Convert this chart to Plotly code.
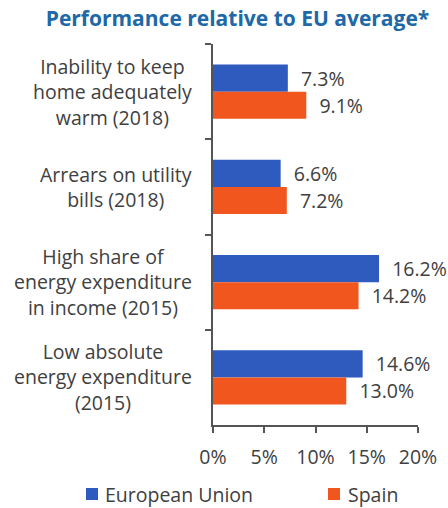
import plotly.graph_objects as go

categories = [
    "Inability to keep<br>home adequately<br>warm (2018)",
    "Arrears on utility<br>bills (2018)",
    "High share of<br>energy expenditure<br>in income (2015)",
    "Low absolute<br>energy expenditure<br>(2015)",
]
eu_values = [7.3, 6.6, 16.2, 14.6]
spain_values = [9.1, 7.2, 14.2, 13.0]
x_ticks = [0, 5, 10, 15, 20]
series_names = ["European Union", "Spain"]

BLUE = "#2f5bbf"
ORANGE = "#f2561f"
TEXT = "#404040"
AXIS = "#555555"
FONT = "Open Sans"

# plot-area geometry in pixels
W, H = 448, 508
L, R, T, B = 213, 30, 44, 83
PW, PH = W - L - R, H - T - B


def px_x(x):
    return (x - L) / PW


def px_y(y):
    return (H - B - y) / PH


fig = go.Figure()
for name, vals, color in zip(series_names, [eu_values, spain_values], [BLUE, ORANGE]):
    fig.add_trace(go.Bar(
        name=name,
        y=categories,
        x=vals,
        orientation="h",
        marker=dict(color=color, line=dict(width=0)),
        text=["\u00a0\u00a0" + f"{v:.1f}%" for v in vals],
        textposition="outside",
        textfont=dict(family=FONT, size=19.5, color=TEXT),
        cliponaxis=False,
        showlegend=False,
    ))

# multi-line category labels: block ends near the axis, lines centred in the block
for cat in categories:
    fig.add_annotation(
        x=px_x(194), xref="paper", xanchor="right",
        y=cat, yref="y", yanchor="middle",
        text=cat, showarrow=False, align="center",
        font=dict(family=FONT, size=19.5, color=TEXT),
    )

# legend: coloured squares with series names
legend_items = [(series_names[0], BLUE, 86, 103), (series_names[1], ORANGE, 328, 346)]
for name, color, sq_x, txt_x in legend_items:
    fig.add_shape(
        type="rect", xref="paper", yref="paper",
        x0=px_x(sq_x), x1=px_x(sq_x + 12), y0=px_y(500), y1=px_y(488),
        fillcolor=color, line=dict(width=0),
    )
    fig.add_annotation(
        x=px_x(txt_x), xref="paper", xanchor="left",
        y=px_y(494), yref="paper", yanchor="middle",
        text=name, showarrow=False,
        font=dict(family=FONT, size=19.5, color=TEXT),
    )

fig.update_layout(
    width=W, height=H,
    margin=dict(l=L, r=R, t=T, b=B, autoexpand=False),
    paper_bgcolor="white", plot_bgcolor="white",
    barmode="group",
    bargap=0.43, bargroupgap=0,
    showlegend=False,
    title=dict(
        text="<b>Performance relative to EU average*</b>",
        x=237.5 / W, xanchor="center", y=1 - 19 / H, yanchor="middle",
        font=dict(family=FONT, size=21, color="#2068a6"),
    ),
    xaxis=dict(
        range=[0, 20], tickvals=x_ticks, ticktext=[f"{t}%" for t in x_ticks],
        showgrid=False, zeroline=False,
        showline=True, linecolor=AXIS, linewidth=1.5,
        ticks="outside", ticklen=6, tickcolor=AXIS, tickwidth=1.5,
        ticklabelstandoff=8,
        tickfont=dict(family=FONT, size=19.5, color=TEXT),
    ),
    yaxis=dict(
        autorange="reversed", showgrid=False, zeroline=False,
        showline=True, linecolor=AXIS, linewidth=1.5,
        ticks="outside", ticklen=6, tickcolor=AXIS, tickwidth=1.5,
        tickson="boundaries", showticklabels=False,
    ),
)

fig.write_html("out.html")
